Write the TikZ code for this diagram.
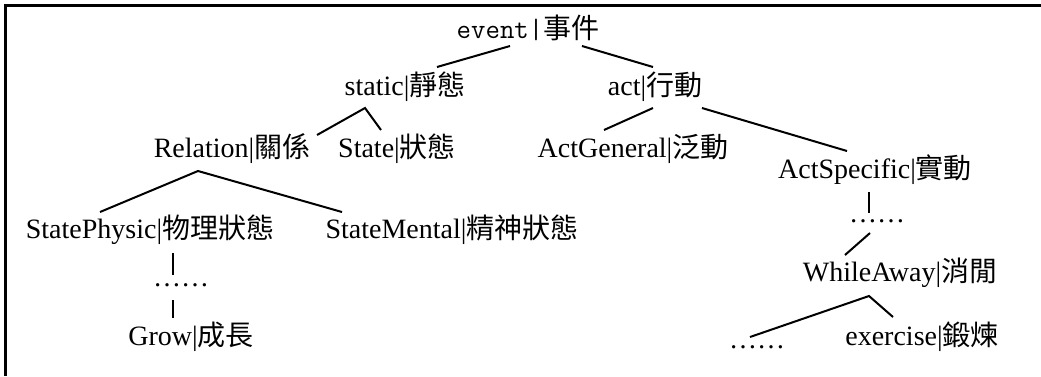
\documentclass[tikz,border=0pt]{standalone}
\usepackage{fontspec}
\setmainfont{Liberation Serif}
\newfontfamily\cjk{Noto Sans CJK TC}
\usetikzlibrary{calc}
\tikzset{
  lbl/.style={inner sep=0pt, anchor=base, font=\fontsize{28}{30}\selectfont},
  conn/.style={line width=2pt, line cap=butt},
  frame/.style={line width=2.5pt}
}
\begin{document}
\begin{tikzpicture}[x=1pt,y=-1pt]
\useasboundingbox (0,0) rectangle (1041,376);
\draw[frame] (1041,5.5) -- (5.5,5.5) -- (5.5,376);

\node[lbl] (event) at (528,38) {{\ttfamily event|}{\cjk 事件}};
\node[lbl] (static) at (405,95) {static|{\cjk 靜態}};
\node[lbl] (act) at (655,95) {act|{\cjk 行動}};
\node[lbl] (relation) at (232,157) {Relation|{\cjk 關係}};
\node[lbl] (state) at (397,157) {State|{\cjk 狀態}};
\node[lbl] (actgen) at (633,157) {ActGeneral|{\cjk 泛動}};
\node[lbl] (actspec) at (875,178) {ActSpecific|{\cjk 實動}};
\node[lbl] (physic) at (150,238) {StatePhysic|{\cjk 物理狀態}};
\node[lbl] (mental) at (452,238) {StateMental|{\cjk 精神狀態}};
\node[lbl] (dotsa) at (181,286) {……};
\node[lbl] (grow) at (191,345) {Grow|{\cjk 成長}};
\node[lbl] (dotsb) at (877,222) {……};
\node[lbl] (while) at (900,281) {WhileAway|{\cjk 消閒}};
\node[lbl] (dotsc) at (757,348) {……};
\node[lbl] (exercise) at (922,345) {exercise|{\cjk 鍛煉}};

\draw[conn] ($(event.base)+(-18,8)$) -- ($(static.base)+(32,-28)$);
\draw[conn] ($(event.base)+(54,8)$) -- ($(act.base)+(-2,-28)$);
\draw[conn] ($(relation.base)+(85,-22)$) -- ($(static.base)+(-40,13)$) -- ($(state.base)+(-16,-27)$);
\draw[conn] ($(act.base)+(-2,13)$) -- ($(actgen.base)+(-29,-27)$);
\draw[conn] ($(act.base)+(47,13)$) -- ($(actspec.base)+(-28,-27)$);
\draw[conn] ($(physic.base)+(-50,-26)$) -- ($(relation.base)+(-34,14)$) -- ($(mental.base)+(-110,-26)$);
\draw[conn] ($(physic.base)+(23,15)$) -- ($(dotsa.base)+(-8,-11)$);
\draw[conn] ($(dotsa.base)+(-8,14)$) -- ($(grow.base)+(-18,-27)$);
\draw[conn] ($(actspec.base)+(-6,14)$) -- ($(dotsb.base)+(-8,-9)$);
\draw[conn] ($(dotsb.base)+(-7,11)$) -- ($(while.base)+(-55,-26)$);
\draw[conn] ($(dotsc.base)+(-7,-11)$) -- ($(while.base)+(-31,15)$) -- ($(exercise.base)+(-29,-28)$);
\end{tikzpicture}
\end{document}
